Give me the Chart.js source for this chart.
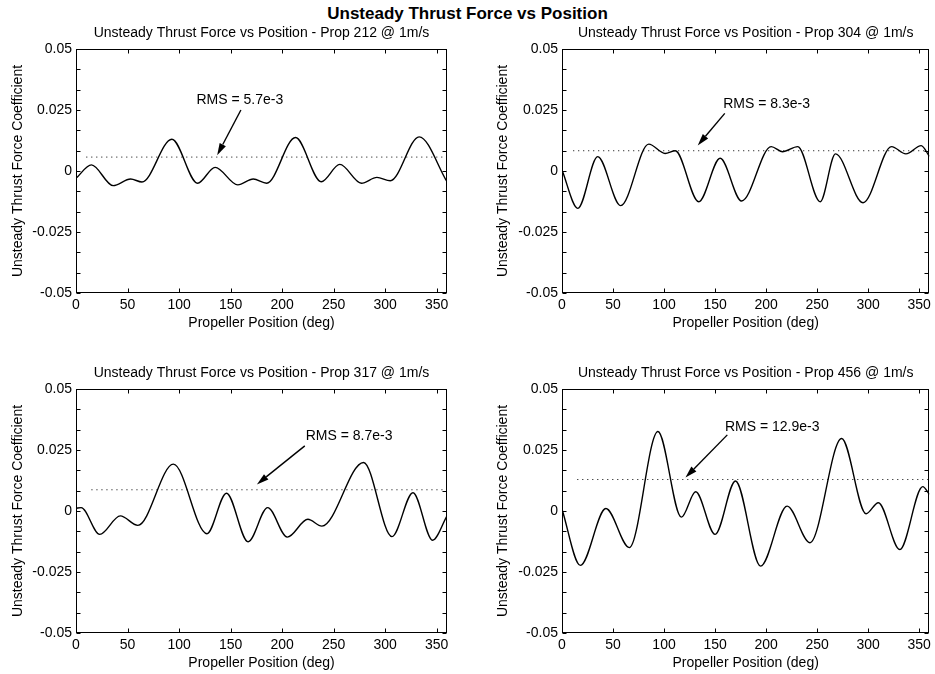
<!DOCTYPE html>
<html>
<head>
<meta charset="utf-8">
<script src="https://cdn.jsdelivr.net/npm/chart.js@4.4.1/dist/chart.umd.min.js"></script>
<style>
  html, body { margin: 0; padding: 0; background: #fff; overflow: hidden; }
  body { width: 935px; height: 674px; position: relative; font-family: "Liberation Sans", Arial, sans-serif; }
  #suptitle { position: absolute; left: 0; top: 4px; width: 935px; text-align: center;
              font-weight: bold; font-size: 17px; line-height: 20px; color: #000; }
  .panel { position: absolute; }
</style>
</head>
<body>
<div id="suptitle">Unsteady Thrust Force vs Position</div>
<div class="panel" style="left:0;top:22px;width:465px;height:312px"><canvas id="c212"></canvas></div>
<div class="panel" style="left:465px;top:22px;width:470px;height:312px"><canvas id="c304"></canvas></div>
<div class="panel" style="left:0;top:362px;width:465px;height:312px"><canvas id="c317"></canvas></div>
<div class="panel" style="left:465px;top:362px;width:470px;height:312px"><canvas id="c456"></canvas></div>
<script>
const FONT = '"Liberation Sans", Arial, sans-serif'
const FS = 14

// axis ticks (labelled) and the small inward marks along the y edges
const X_TICKS = [0, 50, 100, 150, 200, 250, 300, 350]
const Y_TICKS = [-0.05, -0.025, 0, 0.025, 0.05]
const Y_MARKS = [-0.05, -0.04167, -0.03333, -0.025, -0.01667, -0.00833, 0, 0.00833, 0.01667, 0.025, 0.03333, 0.04167, 0.05]

// Prop 212
const deg212 = [0, 15, 36, 53, 64, 93, 118, 135, 157, 172, 185, 213, 238, 256, 277, 292, 305, 333, 360]
const val212 = [-0.003, 0.0025, -0.006, -0.0033, -0.0045, 0.013, -0.005, 0.0015, -0.0057, -0.0033, -0.005, 0.0137, -0.0044, 0.0027, -0.005, -0.0026, -0.004, 0.014, -0.0044]
const rms212 = 0.0057

// Prop 304
const deg304 = [0, 15.5, 35, 57.5, 85, 101, 111, 134, 155, 176, 205, 216, 231, 253, 268, 295, 323, 337, 352, 360]
const val304 = [0.0004, -0.0153, 0.0059, -0.0142, 0.011, 0.0072, 0.0083, -0.0126, 0.0052, -0.0123, 0.010, 0.0079, 0.010, -0.0126, 0.007, -0.013, 0.010, 0.007, 0.0104, 0.006]
const rms304 = 0.0083

// Prop 317
const deg317 = [0, 5, 23, 43, 60, 94.5, 127, 146, 167, 186, 205, 225, 238.6, 279, 306.6, 327, 346, 360]
const val317 = [0.0011, 0.0014, -0.0096, -0.002, -0.0059, 0.0192, -0.0093, 0.0073, -0.0126, 0.0014, -0.0107, -0.0034, -0.0062, 0.0199, -0.0105, 0.0075, -0.012, -0.002]
const rms317 = 0.0087

// Prop 456
const deg456 = [0, 18, 43, 66, 94, 117, 131, 150, 170, 194.6, 220.6, 243, 274, 298, 310, 331, 353.5, 360]
const val456 = [0.0007, -0.0223, 0.001, -0.015, 0.0326, -0.0025, 0.0079, -0.0096, 0.0123, -0.0226, 0.002, -0.013, 0.0297, -0.0011, 0.0034, -0.0158, 0.010, 0.0068]
const rms456 = 0.0129

// box, inward ticks and the RMS callout
const frameTicks = {
  id: 'frameTicks',
  afterDatasetsDraw(chart, args, opts) {
    const { ctx, chartArea: a, scales: { x, y } } = chart
    const L = Math.round(a.left) + 0.5, R = Math.round(a.right) - 0.5
    const T = Math.round(a.top) + 0.5, B = Math.round(a.bottom) - 0.5
    ctx.save()
    ctx.strokeStyle = '#000'
    ctx.lineWidth = 1
    ctx.strokeRect(L, T, R - L, B - T)
    ctx.beginPath()
    X_TICKS.forEach(v => {
      const px = Math.round(x.getPixelForValue(v)) + 0.5
      ctx.moveTo(px, B); ctx.lineTo(px, B - 4)
      ctx.moveTo(px, T); ctx.lineTo(px, T + 4)
    })
    Y_MARKS.forEach(v => {
      const py = Math.round(y.getPixelForValue(v)) + 0.5
      ctx.moveTo(L, py); ctx.lineTo(L + 4, py)
      ctx.moveTo(R, py); ctx.lineTo(R - 4, py)
    })
    ctx.stroke()

    if (opts && opts.text) {
      ctx.fillStyle = '#000'
      ctx.font = FS + 'px ' + FONT
      ctx.textAlign = 'center'
      ctx.textBaseline = 'middle'
      ctx.fillText(opts.text, x.getPixelForValue(opts.at[0]), y.getPixelForValue(opts.at[1]))

      const x0 = x.getPixelForValue(opts.from[0]), y0 = y.getPixelForValue(opts.from[1])
      const x1 = x.getPixelForValue(opts.to[0]), y1 = y.getPixelForValue(opts.to[1])
      const ang = Math.atan2(y1 - y0, x1 - x0)
      const len = 12, half = 3.5
      const bx = x1 - len * Math.cos(ang), by = y1 - len * Math.sin(ang)
      ctx.lineWidth = 1.4
      ctx.beginPath()
      ctx.moveTo(x0, y0); ctx.lineTo(bx, by)
      ctx.stroke()
      ctx.beginPath()
      ctx.moveTo(x1, y1)
      ctx.lineTo(bx + half * Math.sin(ang), by - half * Math.cos(ang))
      ctx.lineTo(bx - half * Math.sin(ang), by + half * Math.cos(ang))
      ctx.closePath()
      ctx.fill()
    }
    ctx.restore()
  }
}

function makePanel(id, prop, degs, vals, rms, rmsStart, note, axisWidth, rightPad, yTitlePad) {
  return new Chart(document.getElementById(id), {
    type: 'line',
    data: {
      datasets: [
        {
          data: degs.map((d, i) => ({ x: d, y: vals[i] })),
          borderColor: '#000',
          borderWidth: 1.4,
          pointRadius: 0,
          cubicInterpolationMode: 'monotone',
        },
        {
          data: [{ x: rmsStart, y: rms }, { x: 360, y: rms }],
          borderColor: '#000',
          borderWidth: 1,
          borderDash: [1, 4],
          pointRadius: 0,
        },
      ],
    },
    options: {
      animation: false,
      responsive: true,
      maintainAspectRatio: false,
      layout: { padding: { right: rightPad } },
      plugins: {
        legend: { display: false },
        tooltip: { enabled: false },
        title: {
          display: true,
          text: 'Unsteady Thrust Force vs Position - Prop ' + prop + ' @ 1m/s',
          fullSize: false,
          color: '#000',
          font: { family: FONT, size: FS, weight: 'normal', lineHeight: 1.2 },
          padding: { top: 2.6, bottom: 7.6 },
        },
        frameTicks: note,
      },
      scales: {
        x: {
          type: 'linear',
          min: 0,
          max: 360,
          grid: { display: false, drawTicks: false },
          border: { display: false },
          afterBuildTicks: s => { s.ticks = X_TICKS.map(v => ({ value: v })) },
          afterFit: s => { s.height = 41 },
          ticks: { color: '#000', font: { family: FONT, size: FS }, padding: 4, maxRotation: 0, autoSkip: false },
          title: {
            display: true,
            text: 'Propeller Position (deg)',
            color: '#000',
            font: { family: FONT, size: FS, lineHeight: 1.2 },
            padding: { top: 0, bottom: 2.6 },
          },
        },
        y: {
          min: -0.05,
          max: 0.05,
          grid: { display: false, drawTicks: false },
          border: { display: false },
          afterBuildTicks: s => { s.ticks = Y_TICKS.map(v => ({ value: v })) },
          afterFit: s => { s.width = axisWidth },
          ticks: {
            color: '#000',
            font: { family: FONT, size: FS },
            padding: 4,
            callback: v => String(+Number(v).toFixed(3)),
          },
          title: {
            display: true,
            text: 'Unsteady Thrust Force Coefficient',
            color: '#000',
            font: { family: FONT, size: FS, lineHeight: 1.2 },
            padding: { top: yTitlePad, bottom: 0 },
          },
        },
      },
    },
    plugins: [frameTicks],
  })
}

makePanel('c212', 212, deg212, val212, rms212, 10,
  { text: 'RMS = 5.7e-3', at: [159, 0.029], from: [160, 0.025], to: [137, rms212 + 0.0008] }, 76, 18, 9.6)
makePanel('c304', 304, deg304, val304, rms304, 11,
  { text: 'RMS = 8.3e-3', at: [200.5, 0.0275], from: [159.5, 0.0236], to: [133, rms304 + 0.0022] }, 97, 2, 29.6)
makePanel('c317', 317, deg317, val317, rms317, 15,
  { text: 'RMS = 8.7e-3', at: [265, 0.0308], from: [222, 0.0267], to: [175.5, rms317 + 0.0022] }, 76, 18, 9.6)
makePanel('c456', 456, deg456, val456, rms456, 15,
  { text: 'RMS = 12.9e-3', at: [206, 0.0345], from: [162, 0.0312], to: [121, rms456 + 0.0008] }, 97, 2, 29.6)
</script>
</body>
</html>
